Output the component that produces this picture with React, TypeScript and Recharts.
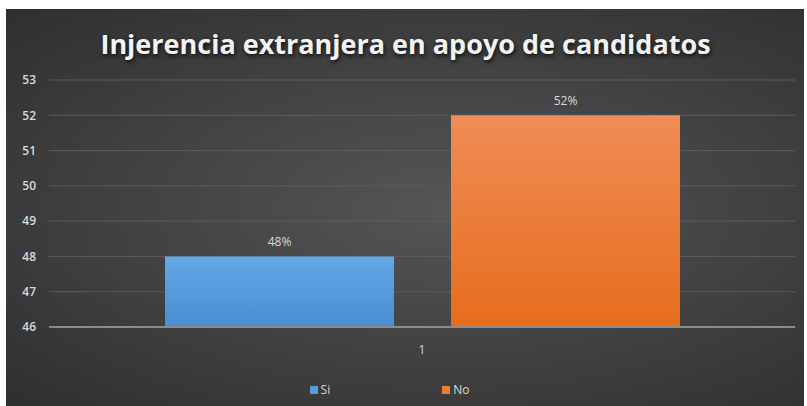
import React from "react";
import { Bar, BarChart, CartesianGrid, LabelList, XAxis, YAxis } from "recharts";

// Injerencia extranjera — two-series column chart on a dark Office-style background.

const categories = ["1"];
const siValues = [48];
const noValues = [52];
const yTicks = [46, 47, 48, 49, 50, 51, 52, 53];
const seriesNames = ["Si", "No"];

const data = categories.map((name, i) => ({ name, si: siValues[i], no: noValues[i] }));

const W = 807;
const H = 406;

const legendColors = ["#5b9bd5", "#ed7d31"];

const LegendBox = () => (
  <div
    style={{
      position: "absolute",
      left: 0,
      top: 381,
      width: W - 28,
      display: "flex",
      justifyContent: "center",
      gap: 112,
      fontFamily: "'Open Sans', sans-serif",
      fontSize: 12,
      color: "#d9d9d9",
    }}
  >
    {seriesNames.map((n, i) => (
      <div key={n} style={{ display: "flex", alignItems: "center", gap: 3 }}>
        <span style={{ width: 8, height: 8, background: legendColors[i], display: "inline-block" }} />
        <span>{n}</span>
      </div>
    ))}
  </div>
);

export default function App() {
  return (
    <div style={{ position: "absolute", left: 0, top: 0, width: W, height: H, background: "#fff", overflow: "hidden" }}>
      <div
        style={{
          position: "absolute",
          left: 6,
          top: 9,
          width: W - 9,
          height: H - 9,
          background: "radial-gradient(ellipse at 55% 50%, #555555 0%, #444444 45%, #2f2f2f 100%)",
        }}
      />
      <div
        style={{
          position: "absolute",
          left: 0,
          top: 25,
          width: W + 4,
          textAlign: "center",
          fontFamily: "'Open Sans', sans-serif",
          fontWeight: 700,
          fontSize: 27,
          color: "#f2f2f2",
          textShadow: "1px 2px 4px rgba(0,0,0,0.8)",
        }}
      >
        Injerencia extranjera en apoyo de candidatos
      </div>
      <div style={{ position: "absolute", left: 0, top: 0 }}>
        <BarChart
          width={W}
          height={H}
          data={data}
          margin={{ top: 80, right: 12, bottom: 49, left: 0 }}
          barSize={229}
          barGap={57}
        >
          <defs>
            <linearGradient id="gSi" x1="0" y1="0" x2="0" y2="1">
              <stop offset="0%" stopColor="#64a7e6" />
              <stop offset="100%" stopColor="#4a8ed3" />
            </linearGradient>
            <linearGradient id="gNo" x1="0" y1="0" x2="0" y2="1">
              <stop offset="0%" stopColor="#f08c55" />
              <stop offset="100%" stopColor="#e66d1c" />
            </linearGradient>
          </defs>
          <CartesianGrid vertical={false} stroke="#5c5c5c" strokeWidth={1} />
          <XAxis
            dataKey="name"
            height={30}
            axisLine={{ stroke: "#8c8c8c", strokeWidth: 2 }}
            tickLine={false}
            tickMargin={12}
            tick={{ fill: "#d9d9d9", fontSize: 12, fontFamily: "'Open Sans', sans-serif" }}
          />
          <YAxis
            width={49}
            domain={[46, 53]}
            ticks={yTicks}
            interval={0}
            allowDataOverflow
            axisLine={false}
            tickLine={false}
            tickMargin={7}
            tick={{ fill: "#d9d9d9", fontSize: 12, fontFamily: "'Open Sans', sans-serif", fontWeight: 600 }}
          />
          <Bar dataKey="si" name={seriesNames[0]} fill="url(#gSi)" isAnimationActive={false}>
            <LabelList
              dataKey="si"
              position="top"
              offset={10}
              formatter={(v: any) => `${v}%`}
              fill="#d9d9d9"
              fontSize={12}
              fontFamily="'Open Sans', sans-serif"
            />
          </Bar>
          <Bar dataKey="no" name={seriesNames[1]} fill="url(#gNo)" isAnimationActive={false}>
            <LabelList
              dataKey="no"
              position="top"
              offset={10}
              formatter={(v: any) => `${v}%`}
              fill="#d9d9d9"
              fontSize={12}
              fontFamily="'Open Sans', sans-serif"
            />
          </Bar>
        </BarChart>
      </div>
      <LegendBox />
    </div>
  );
}
